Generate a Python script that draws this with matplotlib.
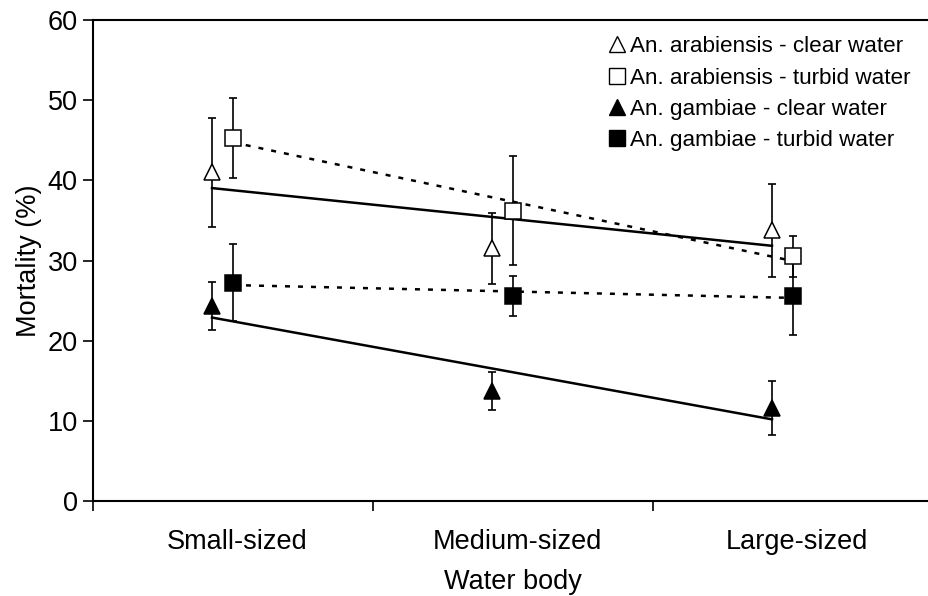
import numpy as np
import matplotlib
matplotlib.use("Agg")
import matplotlib.pyplot as plt
from matplotlib.ticker import FixedLocator, NullFormatter

plt.rcParams["font.family"] = ["Liberation Sans", "DejaVu Sans"]

categories = ["Small-sized", "Medium-sized", "Large-sized"]

arab_clear = [41.0, 31.5, 33.8]
arab_clear_err = [6.8, 4.4, 5.8]
arab_turbid = [45.3, 36.2, 30.5]
arab_turbid_err = [5.0, 6.8, 2.5]
gamb_clear = [24.3, 13.7, 11.6]
gamb_clear_err = [3.0, 2.4, 3.4]
gamb_turbid = [27.2, 25.6, 25.6]
gamb_turbid_err = [4.8, 2.5, 4.9]

labels = ["An. arabiensis - clear water", "An. arabiensis - turbid water",
          "An. gambiae - clear water", "An. gambiae - turbid water"]

x = np.arange(len(categories))
x_clear = x - 0.075
x_turbid = x + 0.0

fig = plt.figure(figsize=(9.29, 5.96), dpi=100)
ax = fig.add_axes([93 / 929, 1 - 501 / 596, 840 / 929, 481 / 596])

series = [
    (x_clear, arab_clear, arab_clear_err, "^", "white", "-"),
    (x_turbid, arab_turbid, arab_turbid_err, "s", "white", (0, (2, 3.2))),
    (x_clear, gamb_clear, gamb_clear_err, "^", "black", "-"),
    (x_turbid, gamb_turbid, gamb_turbid_err, "s", "black", (0, (2, 3.2))),
]

handles = []
for xs, ys, es, mk, fc, ls in series:
    ax.errorbar(xs, ys, yerr=es, fmt="none", ecolor="black", elinewidth=1.2,
                capsize=2.6, capthick=1.2, zorder=2)
    # linear trend line through the three points
    k, b = np.polyfit(xs, ys, 1)
    ax.plot([xs[0], xs[-1]], [k * xs[0] + b, k * xs[-1] + b], color="black",
            lw=1.8, linestyle=ls, zorder=3)
    h, = ax.plot(xs, ys, linestyle="none", marker=mk, markersize=12,
                 markerfacecolor=fc, markeredgecolor="black",
                 markeredgewidth=1.1, zorder=4)
    handles.append(h)

ax.set_xlim(-0.5, 2.5)
ax.set_ylim(0, 60)
ax.set_yticks(range(0, 61, 10))
ax.tick_params(axis="y", labelsize=19.5, length=7, width=1.2, pad=4)

ax.xaxis.set_major_locator(FixedLocator([-0.5, 0.5, 1.5]))
ax.xaxis.set_major_formatter(NullFormatter())
ax.xaxis.set_minor_locator(FixedLocator(x + 0.015))
ax.set_xticklabels(categories, minor=True)
ax.tick_params(axis="x", which="major", length=7, width=1.2)
ax.tick_params(axis="x", which="minor", length=0, labelsize=19.5, pad=20)

for s in ["left", "bottom", "top"]:
    ax.spines[s].set_linewidth(1.5)
ax.spines["right"].set_visible(False)

ax.set_ylabel("Mortality (%)", fontsize=19.5, labelpad=4)
ax.set_xlabel("Water body", fontsize=19.5, labelpad=10)

small_handles = []
for h in handles:
    hh, = ax.plot([], [], linestyle="none", marker=h.get_marker(), markersize=11,
                  markerfacecolor=h.get_markerfacecolor(),
                  markeredgecolor="black", markeredgewidth=1.0)
    small_handles.append(hh)

ax.legend(small_handles, labels, loc="upper left", bbox_to_anchor=(0.605, 0.985),
          frameon=False, fontsize=16.2, handlelength=0.6, handletextpad=0.3,
          labelspacing=0.46, borderaxespad=0)

fig.savefig("out.png", dpi=100)
